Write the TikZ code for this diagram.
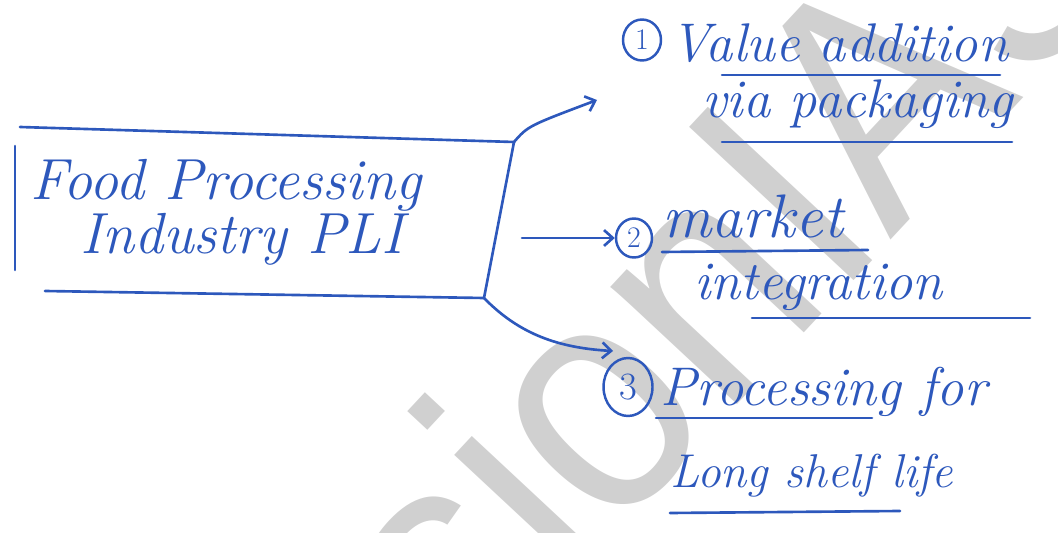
\documentclass[tikz,border=0pt]{standalone}
\usepackage{fontspec}
\newfontfamily\wmfont{Liberation Sans}
\usetikzlibrary{arrows.meta,positioning,shapes.geometric}
\definecolor{ink}{RGB}{45,88,188}
\definecolor{wmgray}{RGB}{208,208,208}
\tikzset{
  inklines/.style={draw=ink, line width=1.5pt, line cap=round, line join=round},
  inkarrow/.style={inklines, -{Straight Barb[length=5pt,width=9pt]}},
  inktext/.style={text=ink, font=\fontsize{31}{36}\selectfont\itshape, inner sep=0pt, anchor=base west},
  numcirc/.style={ellipse, draw=ink, line width=1.4pt, text=ink, inner sep=0pt, font=\fontsize{17}{17}\selectfont},
  wmark/.style={text=wmgray, font=\fontsize{186}{186}\selectfont\wmfont, inner sep=0pt},
}
\begin{document}
\begin{tikzpicture}[x=0.02cm,y=-0.02cm]
\useasboundingbox (0,0) rectangle (1058,533);
% watermark
\node[wmark, rotate=47, xscale=0.9] (wm) at (640,338) {VisionIAS};

% box
\coordinate (boxtl) at (20,127);
\coordinate (boxtr) at (514,142);
\coordinate (boxbr) at (484,298);
\coordinate (boxbl) at (45,291);
\draw[inklines] (boxtl) -- (boxtr) -- (boxbr) -- (boxbl);
\draw[inklines] (15,146) -- (15,270);
\node[inktext, font=\fontsize{33}{36}\selectfont\itshape] (fpi1) at (30,200) {Food Processing};
\node[inktext, font=\fontsize{33}{36}\selectfont\itshape] (fpi2) at (80,254) {Industry PLI};

% items
\node[numcirc, minimum width=0.76cm, minimum height=0.82cm] (n1) at (642,40) {1};
\node[inktext] (v1) at (670,62) {Value addition};
\node[inktext] (v2) at (702,118) {via packaging};
\draw[inklines] (722,75) -- (1000,75);
\draw[inklines] (722,142) -- (1012,142);

\node[numcirc, minimum width=0.72cm, minimum height=0.78cm] (n2) at (634,238) {2};
\node[inktext, font=\fontsize{35}{36}\selectfont\itshape] (m1) at (662,238) {market};
\node[inktext] (m2) at (694,300) {integration};
\draw[inklines] (662,252) -- (868,250);
\draw[inklines] (752,318) -- (1030,318);

\node[numcirc, minimum width=0.98cm, minimum height=1.16cm, font=\fontsize{22}{22}\selectfont] (n3) at (628,387) {3};
\node[inktext] (p1) at (660,405) {Processing for};
\node[inktext, font=\fontsize{27}{30}\selectfont\itshape] (p2) at (670,487) {Long shelf life};
\draw[inklines] (656,418) -- (872,418);
\draw[inklines] (670,513) -- (900,511);

% connectors
\coordinate (a1end) at (597,100);
\draw[inkarrow] (boxtr) .. controls (528,126) .. (a1end);
\draw[inkarrow] (boxtr |- n2) ++(8,0) -- (n2.west);
\coordinate (a3end) at (613,351);
\draw[inkarrow] (boxbr) .. controls (520,335) and (560,348) .. (a3end);
\end{tikzpicture}
\end{document}
